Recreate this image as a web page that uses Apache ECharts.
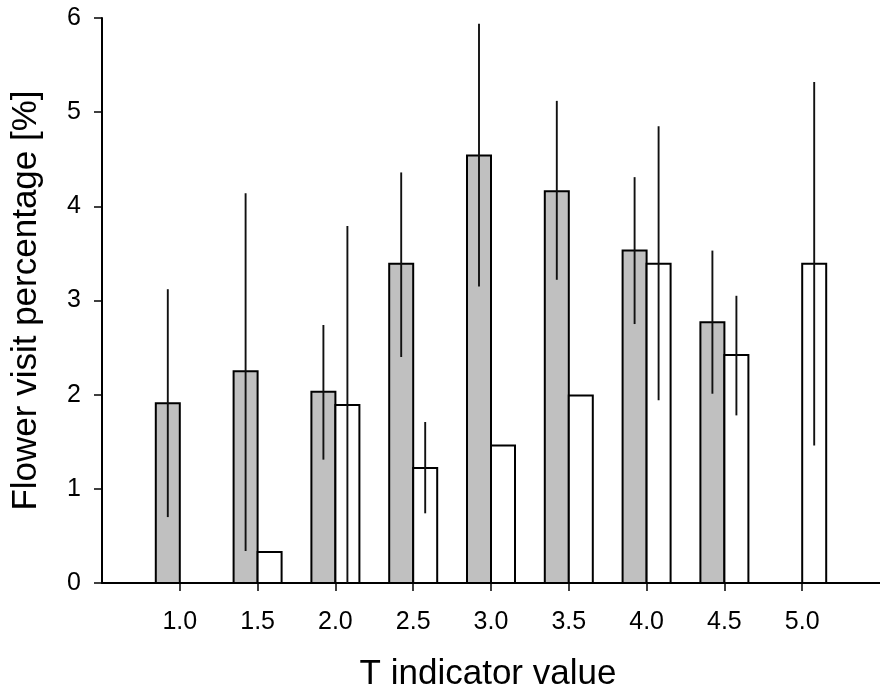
<!DOCTYPE html>
<html>
<head>
    <meta charset="utf-8">
    <title>Flower visit percentage</title>
    <script src="https://cdn.jsdelivr.net/npm/echarts@6/dist/echarts.min.js"></script>
    <style>
        html, body { margin: 0; padding: 0; background: #fff; }
        #main { width: 880px; height: 697px; }
    </style>
</head>
<body>
    <div id="main"></div>
    <script type="text/javascript">
        // T indicator values (x positions) and the x tick labels
        var tValues = [1.0, 1.5, 2.0, 2.5, 3.0, 3.5, 4.0, 4.5, 5.0];
        var tickValues = [1.0, 1.5, 2.0, 2.5, 3.0, 3.5, 4.0, 4.5, 5.0];

        // grey bars (left of each tick) with error bar ends
        var greyMean = [1.91, 2.25, 2.03, 3.39, 4.54, 4.16, 3.53, 2.77, null];
        var greyLow  = [0.70, 0.34, 1.31, 2.40, 3.15, 3.22, 2.75, 2.01, null];
        var greyHigh = [3.12, 4.14, 2.74, 4.36, 5.94, 5.12, 4.31, 3.53, null];

        // white bars (right of each tick) with error bar ends
        var whiteMean = [null, 0.33, 1.89, 1.22, 1.46, 1.99, 3.39, 2.42, 3.39];
        var whiteLow  = [null, null, 0.00, 0.74, null, null, 1.94, 1.78, 1.46];
        var whiteHigh = [null, null, 3.79, 1.71, null, null, 4.85, 3.05, 5.32];

        var BAR_W = 24;

        function rows(mean, low, high) {
            var out = [];
            tValues.forEach(function (t, i) {
                if (mean[i] == null) return;
                out.push([t, mean[i], low[i] == null ? '-' : low[i], high[i] == null ? '-' : high[i]]);
            });
            return out;
        }

        // side = -1 draws bar left of the tick, +1 right of it
        function barRenderer(side, fill) {
            return function (params, api) {
                var t = api.value(0);
                var base = api.coord([t, 0]);
                var top = api.coord([t, api.value(1)]);
                var left = side < 0 ? base[0] - BAR_W : base[0];
                var children = [{
                    type: 'rect',
                    shape: { x: left, y: top[1], width: BAR_W, height: base[1] - top[1] },
                    style: { fill: fill, stroke: '#000', lineWidth: 2 }
                }];
                var lo = api.value(2), hi = api.value(3);
                if (!isNaN(lo) && !isNaN(hi)) {
                    var cx = left + BAR_W / 2;
                    var pLo = api.coord([t, Math.max(lo, 0)]);
                    var pHi = api.coord([t, hi]);
                    children.push({
                        type: 'line',
                        shape: { x1: cx, y1: pLo[1], x2: cx, y2: pHi[1] },
                        style: { stroke: '#111', lineWidth: 1.9 }
                    });
                }
                return { type: 'group', children: children };
            };
        }

        var myChart = echarts.init(document.getElementById('main'));

        var font = 'Liberation Sans, Arial, sans-serif';

        var option = {
            animation: false,
            grid: { left: 102, top: 18, bottom: 111.5, right: -14.5, containLabel: false },
            xAxis: {
                type: 'value',
                min: 0.5,
                max: 5.5,
                interval: 0.5,
                name: 'T indicator value',
                nameLocation: 'middle',
                nameGap: 74,
                nameTextStyle: { fontFamily: font, fontSize: 35, color: '#000', padding: [0, 6, 0, 0] },
                axisLine: { show: true, onZero: false, lineStyle: { color: '#000', width: 2 } },
                axisTick: { show: true, inside: false, length: 8, customValues: tickValues, lineStyle: { color: '#000', width: 1.5 } },
                axisLabel: {
                    customValues: tickValues,
                    margin: 27,
                    fontFamily: font, fontSize: 25, color: '#000',
                    formatter: function (v) { return v.toFixed(1); }
                },
                splitLine: { show: false }
            },
            yAxis: {
                type: 'value',
                min: 0,
                max: 6,
                interval: 1,
                name: 'Flower visit percentage [%]',
                nameLocation: 'middle',
                nameGap: 58,
                nameTextStyle: { fontFamily: font, fontSize: 35, color: '#000' },
                axisLine: { show: true, lineStyle: { color: '#000', width: 2 } },
                axisTick: { show: true, inside: false, length: 8, lineStyle: { color: '#000', width: 1.5 } },
                axisLabel: { margin: 21, fontFamily: font, fontSize: 25, color: '#000' },
                splitLine: { show: false }
            },
            series: [
                {
                    type: 'custom',
                    name: 'grey',
                    renderItem: barRenderer(-1, '#c0c0c0'),
                    encode: { x: 0, y: 1 },
                    data: rows(greyMean, greyLow, greyHigh),
                    z: 2
                },
                {
                    type: 'custom',
                    name: 'white',
                    renderItem: barRenderer(1, '#ffffff'),
                    encode: { x: 0, y: 1 },
                    data: rows(whiteMean, whiteLow, whiteHigh),
                    z: 3
                }
            ]
        };

        myChart.setOption(option);
    </script>
</body>
</html>
